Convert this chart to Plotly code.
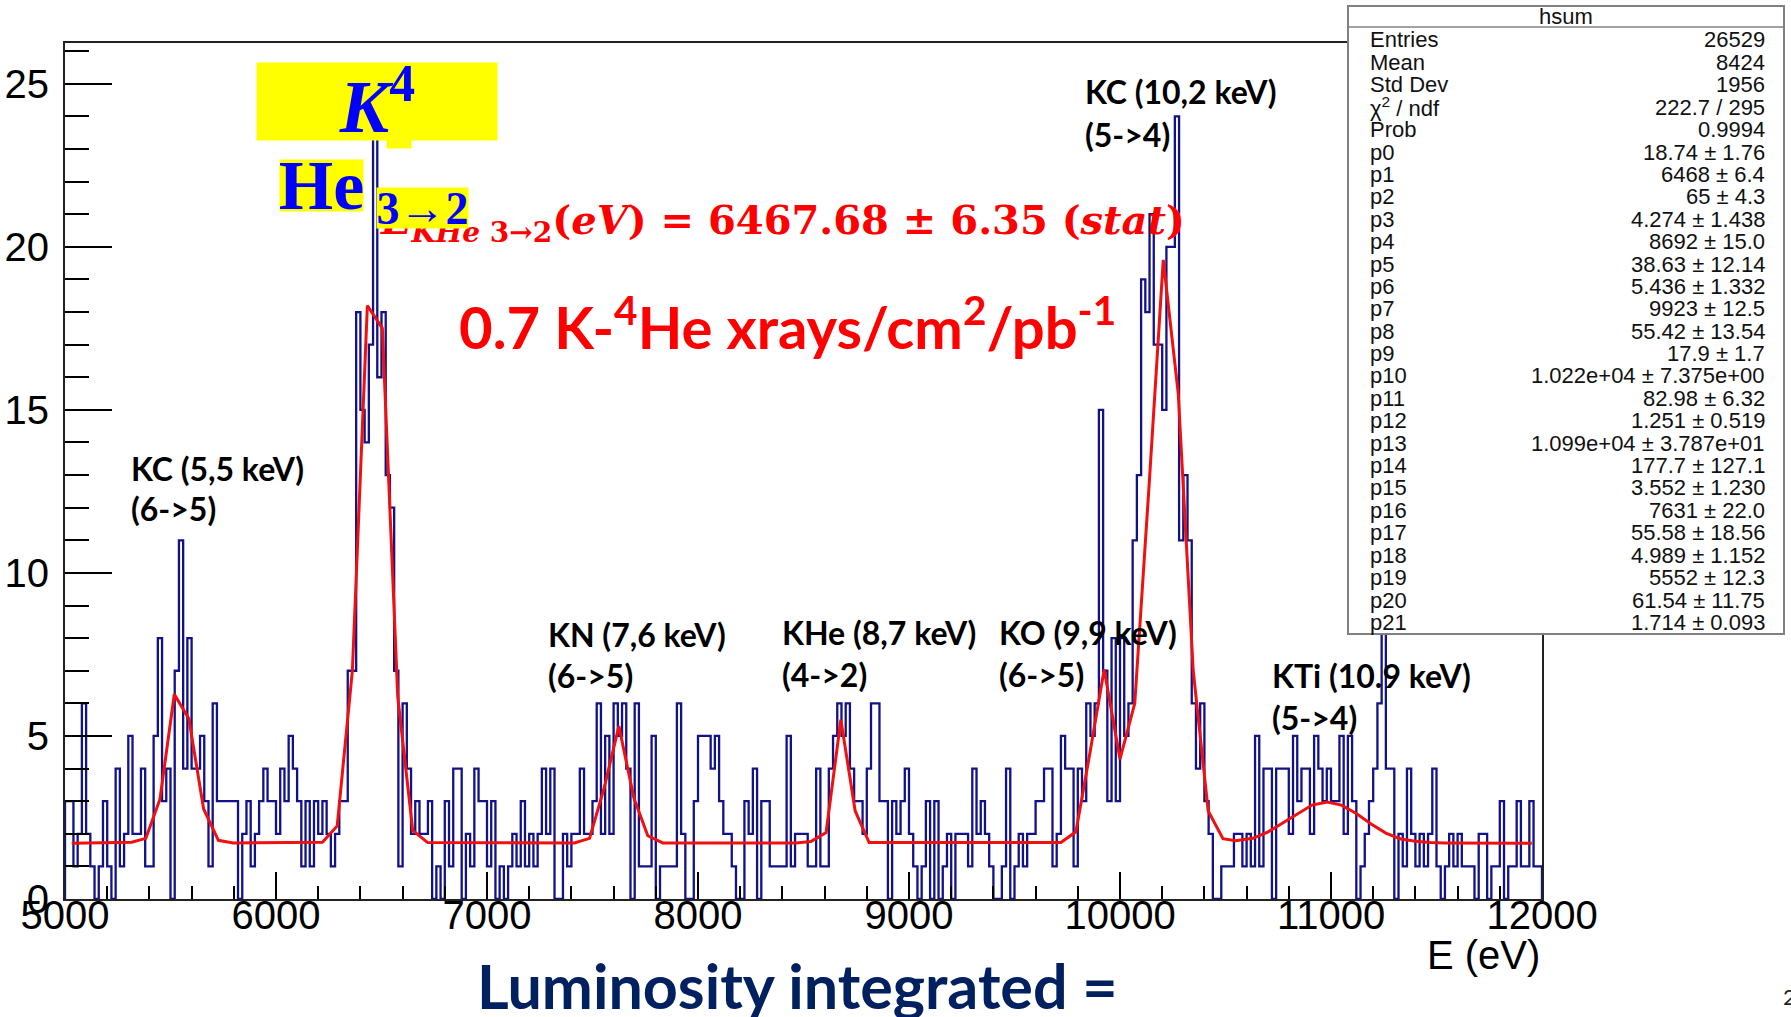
import plotly.graph_objects as go

# ---------------- data ----------------
BIN_LOW = 5000.0      # eV
BIN_WIDTH = 20.0      # eV
COUNTS = [
    3, 3, 1, 2, 6, 2, 1, 0, 1, 3,
    1, 0, 4, 1, 2, 5, 2, 2, 4, 1,
    1, 5, 8, 3, 4, 0, 7, 11, 4, 8,
    4, 4, 5, 3, 1, 6, 3, 3, 3, 3,
    3, 0, 2, 3, 1, 2, 3, 4, 3, 3,
    2, 4, 3, 5, 4, 3, 1, 3, 1, 3,
    2, 3, 2, 1, 2, 3, 3, 7, 7, 18,
    15, 14, 17, 24, 16, 18, 13, 12, 7, 1,
    6, 4, 2, 3, 2, 2, 3, 0, 1, 0,
    3, 1, 4, 4, 0, 2, 1, 4, 3, 3,
    1, 3, 0, 1, 0, 1, 2, 1, 3, 1,
    2, 1, 2, 4, 2, 4, 0, 0, 2, 1,
    2, 2, 4, 2, 2, 3, 6, 2, 5, 2,
    6, 5, 6, 4, 0, 6, 1, 1, 1, 5,
    0, 1, 1, 1, 1, 6, 2, 0, 0, 3,
    5, 5, 5, 4, 5, 3, 2, 2, 1, 0,
    0, 3, 2, 4, 0, 3, 3, 1, 1, 1,
    1, 5, 1, 2, 2, 2, 1, 1, 4, 1,
    1, 4, 5, 6, 5, 6, 4, 3, 3, 2,
    4, 6, 6, 3, 3, 0, 3, 2, 3, 4,
    2, 1, 0, 1, 3, 0, 3, 0, 1, 2,
    0, 2, 2, 2, 1, 4, 2, 3, 2, 1,
    0, 0, 1, 4, 0, 1, 2, 1, 2, 2,
    3, 3, 4, 4, 1, 2, 5, 4, 4, 1,
    4, 3, 6, 5, 6, 15, 7, 3, 8, 3,
    8, 5, 6, 11, 13, 19, 18, 21, 17, 17,
    15, 20, 20, 24, 11, 13, 11, 6, 4, 6,
    3, 2, 0, 0, 1, 1, 1, 2, 2, 1,
    2, 1, 5, 1, 4, 4, 0, 4, 4, 4,
    2, 5, 3, 4, 4, 2, 5, 4, 3, 4,
    3, 3, 5, 2, 5, 3, 0, 1, 2, 3,
    4, 6, 10, 4, 4, 0, 2, 1, 4, 2,
    1, 2, 1, 2, 4, 1, 0, 1, 2, 1,
    2, 1, 1, 1, 0, 2, 2, 0, 1, 1,
    3, 0, 1, 1, 3, 1, 1, 3, 1, 1,
]

# fitted function, as drawn (polyline vertices)
FIT_E = [5032, 5316, 5383, 5450, 5518, 5587, 5657, 5727, 5797,
         6220, 6290, 6362, 6433, 6504, 6577, 6648, 6719,
         7414, 7486, 7555, 7625, 7696, 7762, 7833,
         8464, 8535, 8607, 8677, 8745, 8811,
         9720, 9791, 9858, 9925, 10000, 10070, 10138, 10205, 10276, 10347,
         10418, 10488, 10548, 10630, 10700, 10770, 10840, 10910, 10982,
         11050, 11120, 11190, 11260, 11330, 11400, 11470, 11540, 11952]
FIT_Y = [1.71, 1.74, 1.86, 3.06, 6.28, 5.53, 2.76, 1.80, 1.72,
         1.74, 2.24, 7.0, 18.2, 17.5, 6.2, 2.1, 1.73,
         1.72, 1.86, 3.4, 5.3, 3.1, 1.94, 1.72,
         1.72, 1.76, 2.04, 5.5, 2.7, 1.73,
         1.73, 2.06, 4.5, 7.04, 4.29, 6.0, 12.7, 19.6, 15.5, 7.0,
         2.7, 1.85, 1.79, 1.86, 2.05, 2.33, 2.62, 2.88, 2.97,
         2.88, 2.62, 2.3, 2.02, 1.84, 1.77, 1.73, 1.72, 1.71]

X_TICKS = [5000, 6000, 7000, 8000, 9000, 10000, 11000, 12000]
Y_TICKS = [0, 5, 10, 15, 20, 25]

STAT_NAMES = ["Entries", "Mean", "Std Dev", "χ<sup>2</sup> / ndf", "Prob"] + [f"p{i}" for i in range(22)]
STAT_VALUES = ["26529", "8424", "1956", "222.7 / 295", "0.9994",
               "18.74 ± 1.76", "6468 ± 6.4", "65 ± 4.3", "4.274 ± 1.438",
               "8692 ± 15.0", "38.63 ± 12.14", "5.436 ± 1.332", "9923 ± 12.5",
               "55.42 ± 13.54", "17.9 ± 1.7", "1.022e+04 ± 7.375e+00",
               "82.98 ± 6.32", "1.251 ± 0.519", "1.099e+04 ± 3.787e+01",
               "177.7 ± 127.1", "3.552 ± 1.230", "7631 ± 22.0", "55.58 ± 18.56",
               "4.989 ± 1.152", "5552 ± 12.3", "61.54 ± 11.75", "1.714 ± 0.093"]

PEAK_LABELS = [("KC (5,5 keV)", "(6->5)"), ("KN (7,6 keV)", "(6->5)"),
               ("KHe (8,7 keV)", "(4->2)"), ("KO (9,9 keV)", "(6->5)"),
               ("KC (10,2 keV)", "(5->4)"), ("KTi (10.9 keV)", "(5->4)")]

# ---------------- geometry helpers (pixel -> paper) ----------------
W, H = 1791, 1017
PL, PR, PT, PB = 65, 1542, 43, 899


def px(x):
    return (x - PL) / (PR - PL)


def py(y):
    return (PB - y) / (PB - PT)


# histogram outline as a step line
edges = [BIN_LOW + i * BIN_WIDTH for i in range(len(COUNTS))]
x_end = BIN_LOW + len(COUNTS) * BIN_WIDTH
hx = [BIN_LOW] + edges + [x_end, x_end]
hy = [0] + COUNTS + [COUNTS[-1], 0]

fig = go.Figure()
fig.add_trace(go.Scatter(x=hx, y=hy, mode="lines",
                         line=dict(color="#121288", width=2.3, shape="hv"),
                         hoverinfo="skip", showlegend=False))
fig.add_trace(go.Scatter(x=FIT_E, y=FIT_Y, mode="lines",
                         line=dict(color="#f01010", width=3),
                         hoverinfo="skip", showlegend=False))

axis_font = dict(family="Liberation Sans, Arial, sans-serif", size=40, color="black")
fig.update_xaxes(range=[5000, 12000], tickvals=X_TICKS, tickformat="d",
                 ticks="inside", ticklen=27, tickwidth=2, tickcolor="black",
                 minor=dict(dtick=200, tick0=5000, ticks="inside", ticklen=13,
                            tickwidth=1.5, tickcolor="black"),
                 showline=True, linecolor="#222", linewidth=2, mirror=True,
                 showgrid=False, zeroline=False, tickfont=axis_font,
                 automargin=False, ticklabelstandoff=-20)
fig.update_yaxes(range=[0, 26.25], tickvals=Y_TICKS,
                 ticks="inside", ticklen=47, tickwidth=2, tickcolor="black",
                 minor=dict(dtick=1, tick0=0, ticks="inside", ticklen=24,
                            tickwidth=1.5, tickcolor="black"),
                 showline=True, linecolor="#222", linewidth=2, mirror=True,
                 showgrid=False, zeroline=False, tickfont=axis_font,
                 automargin=False, ticklabelstandoff=6)

shapes = []
ann = []

# statistics box
shapes.append(dict(type="rect", xref="paper", yref="paper",
                   x0=px(1348), x1=px(1784), y0=py(634), y1=py(6),
                   fillcolor="white", line=dict(color="#808080", width=2),
                   layer="above"))
shapes.append(dict(type="line", xref="paper", yref="paper",
                   x0=px(1348), x1=px(1784), y0=py(27), y1=py(27),
                   line=dict(color="#808080", width=1.5), layer="above"))
stat_font = dict(family="Liberation Sans, Arial, sans-serif", size=22, color="#111")
ann.append(dict(text="hsum", x=px(1566), y=py(16), xref="paper", yref="paper",
                xanchor="center", yanchor="middle", showarrow=False, font=stat_font))
for i, (name, val) in enumerate(zip(STAT_NAMES, STAT_VALUES)):
    yy = 40 + i * 22.4
    ann.append(dict(text=name, x=px(1368), y=py(yy), xref="paper", yref="paper",
                    xanchor="left", yanchor="middle", showarrow=False, font=stat_font))
    ann.append(dict(text=val, x=px(1767), y=py(yy), xref="paper", yref="paper",
                    xanchor="right", yanchor="middle", showarrow=False, font=stat_font))

# peak labels
label_font = dict(family="Lato, Carlito, sans-serif", size=32, color="black")
label_pos = [(129, 468, 508), (546, 634, 676), (780, 632, 674),
             (997, 632, 674), (1083, 91, 134), (1270, 676, 717)]
for (l1, l2), (lx, y1, y2) in zip(PEAK_LABELS, label_pos):
    for t, yy in ((l1, y1), (l2, y2)):
        ann.append(dict(text=f"<b>{t}</b>", x=px(lx), y=py(yy), xref="paper", yref="paper",
                        xanchor="left", yanchor="middle", showarrow=False, font=label_font))

# energy result (red)
ann.append(dict(text="<b><i>E</i><sub><i>KHe</i> 3→2</sub>(<i>eV</i>) = 6467.68 ± 6.35 (<i>stat</i>)</b>",
                x=px(378), y=py(222), xref="paper", yref="paper",
                xanchor="left", yanchor="middle", showarrow=False,
                font=dict(family="DejaVu Serif, serif", size=40, color="#ff0000")))

# highlighted transition label
ann.append(dict(text="<b><i>K</i><sup>4</sup></b>", x=px(377), y=py(101.5),
                xref="paper", yref="paper", xanchor="center", yanchor="middle",
                width=240, height=77, bgcolor="#ffff00", borderpad=0,
                showarrow=False, valign="middle",
                font=dict(family="Liberation Serif, serif", size=74, color="#0000ff")))
ann.append(dict(text=" ", x=px(399), y=py(144), xref="paper", yref="paper",
                xanchor="center", yanchor="middle", width=24, height=8,
                bgcolor="#ffff00", borderpad=0, showarrow=False))
ann.append(dict(text="<b>He</b>", x=px(321.5), y=py(185.5),
                xref="paper", yref="paper", xanchor="center", yanchor="middle",
                width=83, height=51, bgcolor="#ffff00", borderpad=0,
                showarrow=False, valign="middle",
                font=dict(family="Liberation Serif, serif", size=70, color="#0000ff")))
ann.append(dict(text="<b>3→2</b>", x=px(422.5), y=py(208),
                xref="paper", yref="paper", xanchor="center", yanchor="middle",
                width=91, height=40, bgcolor="#ffff00", borderpad=0,
                showarrow=False, valign="middle",
                font=dict(family="Liberation Serif, serif", size=46, color="#0000ff")))

# yield
ann.append(dict(text="<b>0.7 K-<sup>4</sup>He xrays/cm<sup>2</sup>/pb<sup>-1</sup></b>",
                x=px(457), y=py(323), xref="paper", yref="paper",
                xanchor="left", yanchor="middle", showarrow=False,
                font=dict(family="Lato, Carlito, sans-serif", size=58, color="#ff0000")))

# axis title
ann.append(dict(text="E (eV)", x=px(1542), y=py(955), xref="paper", yref="paper",
                xanchor="right", yanchor="middle", showarrow=False, font=axis_font))

# footer
ann.append(dict(text="<b>Luminosity integrated =</b>", x=px(797), y=py(985),
                xref="paper", yref="paper", xanchor="center", yanchor="middle",
                showarrow=False,
                font=dict(family="Lato, Carlito, sans-serif", size=61, color="#002060")))
ann.append(dict(text="2", x=px(1781), y=py(996), xref="paper", yref="paper",
                xanchor="left", yanchor="middle", showarrow=False,
                font=dict(family="Lato, sans-serif", size=22, color="#222")))

fig.update_layout(width=W, height=H, autosize=False,
                  margin=dict(l=PL, r=W - PR, t=PT, b=H - PB),
                  paper_bgcolor="white", plot_bgcolor="white",
                  shapes=shapes, annotations=ann, showlegend=False)

fig.write_html("out.html")
